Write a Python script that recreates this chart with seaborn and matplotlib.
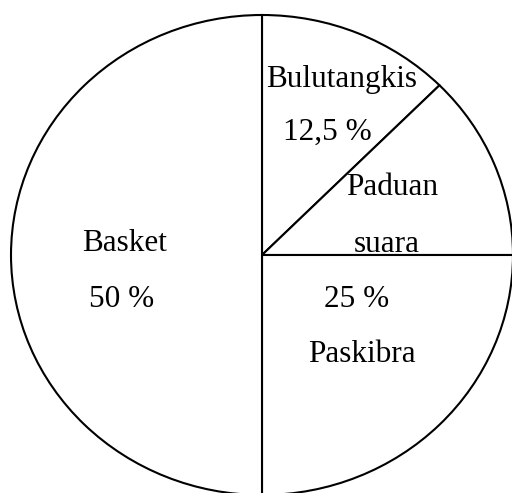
import matplotlib
matplotlib.use("Agg")
import matplotlib.pyplot as plt
import seaborn as sns

sns.set_style("white")
plt.rcParams['font.family'] = ['Liberation Serif', 'DejaVu Serif']

categories = ["Bulutangkis", "Paduan suara", "Paskibra", "Basket"]
values = [12.5, 12.5, 25, 50]

W, H = 512, 493
fig = plt.figure(figsize=(W / 100, H / 100), dpi=100)
ax = fig.add_axes([0, 0, 1, 1])

ax.pie(values, startangle=90, counterclock=False, radius=1,
       colors=["white"] * len(values),
       wedgeprops=dict(edgecolor="black", linewidth=1.5))

# pixel mapping: center (262, 255), rx 251, ry 240
cx, cy, rx, ry = 262, 255, 251, 240
ax.set_xlim(-cx / rx, (W - cx) / rx)
ax.set_ylim(-(H - cy) / ry, cy / ry)
ax.set_aspect("auto")
ax.axis("off")

fs = 22.5
labels = [
    ("Bulutangkis", 342, 87),
    ("12,5 %", 327, 140),
    ("Paduan", 392, 195),
    ("suara", 387, 252),
    ("Basket", 125, 251),
    ("50 %", 122, 307),
    ("25 %", 357, 307),
    ("Paskibra", 362, 362),
]
for txt, px, py in labels:
    fig.text(px / W, 1 - py / H, txt, ha="center", va="baseline", fontsize=fs, color="black")

fig.savefig("out.png", dpi=100, facecolor="white")
